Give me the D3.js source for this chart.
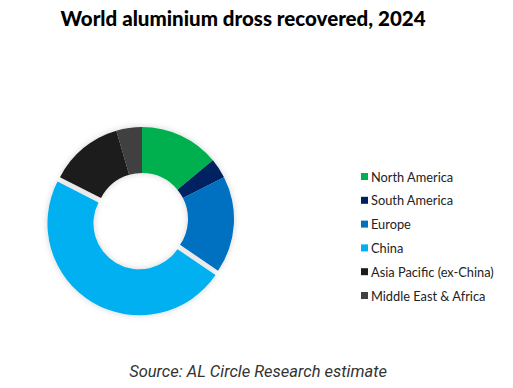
<!DOCTYPE html>
<html>
<head>
<meta charset="utf-8">
<script src="https://cdn.jsdelivr.net/npm/d3@7"></script>
<style>
  body { margin: 0; background: #fff; }
  svg { display: block; }
</style>
</head>
<body>
<div id="chart"></div>
<script>
// regions and share of dross recovered (%)
const regions = ["North America", "South America", "Europe", "China", "Asia Pacific (ex-China)", "Middle East & Africa"]
const shares = [14, 3.5, 17, 48, 13, 4.5]
const colours = ["#00b050", "#002060", "#0070c0", "#00b0f0", "#1a1a1a", "#404040"]

const width = 513, height = 388
const svg = d3.select("#chart").append("svg")
  .attr("width", width).attr("height", height)

// soft shadow round the ring
const defs = svg.append("defs")
const f = defs.append("filter").attr("id", "shadow").attr("x", "-20%").attr("y", "-20%").attr("width", "140%").attr("height", "140%")
f.append("feDropShadow").attr("dx", 0).attr("dy", 0).attr("stdDeviation", 3).attr("flood-color", "#000").attr("flood-opacity", 0.18)

svg.append("text")
  .attr("x", 243).attr("y", 26)
  .attr("text-anchor", "middle")
  .style("font-family", "Lato, 'Open Sans', sans-serif")
  .style("font-weight", "900")
  .style("font-size", "20.5px")
  .text("World aluminium dross recovered, 2024")

const details = regions.map((r, i) => ({ region: r, value: shares[i] }))
const pie = d3.pie().sort(null).value(d => d.value)
const arc = d3.arc().innerRadius(46).outerRadius(92)
const colour = d3.scaleOrdinal().domain(regions).range(colours)

const ring = svg.append("g").attr("transform", "translate(142,219)").attr("filter", "url(#shadow)")
ring.selectAll("path").data(pie(details)).enter().append("path")
  .attr("d", arc)
  .attr("fill", d => colour(d.data.region))
  .attr("transform", d => {
    // China is pulled out a little
    if (d.data.region !== "China") return null
    const mid = (d.startAngle + d.endAngle) / 2
    return "translate(" + (Math.sin(mid) * 5) + "," + (-Math.cos(mid) * 5) + ")"
  })

// legend
const legend = svg.append("g").attr("transform", "translate(361,177)")
const rows = legend.selectAll("g").data(regions).enter().append("g")
  .attr("transform", (d, i) => "translate(0," + i * 23.8 + ")")
rows.append("rect").attr("x", 0).attr("y", -4).attr("width", 7).attr("height", 7)
  .attr("fill", d => colour(d))
rows.append("text").attr("x", 10).attr("y", 4.5)
  .style("font-family", "Lato, 'Open Sans', sans-serif")
  .style("font-size", "12.8px")
  .attr("fill", "#222")
  .text(d => d)

svg.append("text")
  .attr("x", 258).attr("y", 377)
  .attr("text-anchor", "middle")
  .style("font-family", "Roboto, sans-serif")
  .style("font-style", "italic")
  .style("font-size", "16.5px")
  .attr("fill", "#333")
  .text("Source: AL Circle Research estimate")
</script>
</body>
</html>
